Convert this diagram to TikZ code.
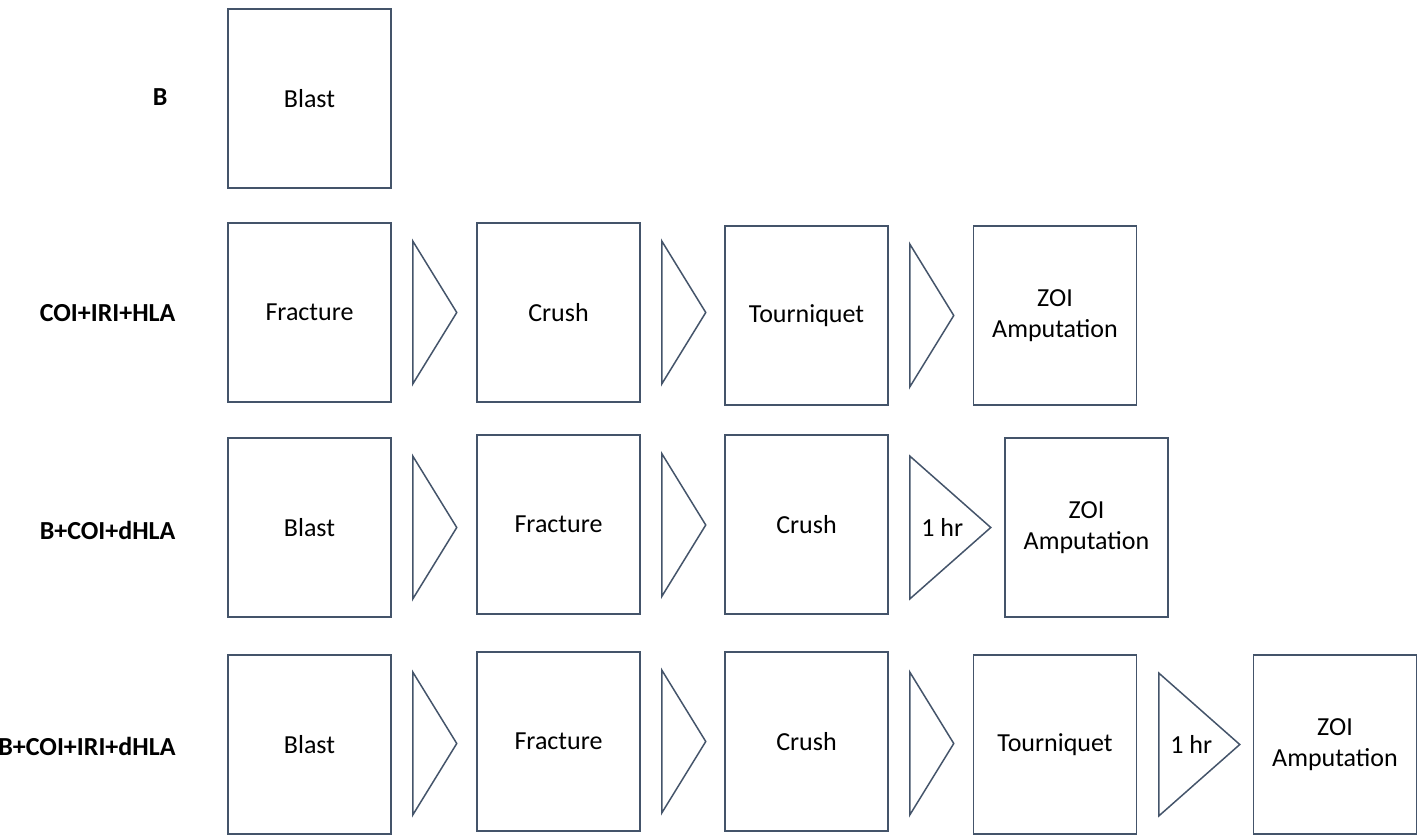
\documentclass[tikz,border=0pt]{standalone}
\usepackage{fontspec}
\setmainfont{Carlito}
\usetikzlibrary{shapes.geometric}
\definecolor{edgegray}{HTML}{44546A}

\begin{document}
\begin{tikzpicture}[
  x=1pt,y=-1pt,
  every node/.style={align=center,font=\fontsize{26}{31}\selectfont},
  stage/.style={draw=edgegray,line width=1.5pt,minimum width=163pt,minimum height=179pt,inner sep=0pt},
  wedge/.style={draw=edgegray,line width=1.5pt,shape=isosceles triangle,isosceles triangle stretches,
    minimum height=44pt,minimum width=143pt,inner sep=0pt,anchor=lower side},
  longwedge/.style={wedge,minimum height=81pt},
  group/.style={font=\fontsize{26}{31}\selectfont\bfseries,anchor=east}]

  \useasboundingbox (0,0) rectangle (1424,836);

  % Row labels
  \node[group] (lblB) at (171,97) {B};
  \node[group] (lblCIH) at (179,313) {COI+IRI+HLA};
  \node[group] (lblBCdH) at (179,530) {B+COI+dHLA};
  \node[group] (lblBCIdH) at (179,746) {B+COI+IRI+dHLA};

  % First row
  \node[stage] (blastA) at (309.5,98.5) {Blast};

  % Second row
  \node[stage] (fractureB) at (309.5,312.5) {Fracture};
  \node[wedge] (wedgeB1) at (412,312.5) {};
  \node[stage] (crushB) at (558.5,312.5) {Crush};
  \node[wedge] (wedgeB2) at (661,312.5) {};
  \node[stage] (tourniquetB) at (806.5,315.5) {Tourniquet};
  \node[wedge] (wedgeB3) at (909,315.5) {};
  \node[stage] (zoiB) at (1055,315.5) {ZOI\\Amputation};

  % Third row
  \node[stage] (blastC) at (309.5,527.5) {Blast};
  \node[wedge] (wedgeC1) at (412,527.5) {};
  \node[stage] (fractureC) at (558.5,524.5) {Fracture};
  \node[wedge] (wedgeC2) at (661,525) {};
  \node[stage] (crushC) at (806.5,524.5) {Crush};
  \node[longwedge] (wedgeC3) at (909,527.5) {1 hr};
  \node[stage] (zoiC) at (1086.5,527.5) {ZOI\\Amputation};

  % Fourth row
  \node[stage] (blastD) at (309.5,744.5) {Blast};
  \node[wedge] (wedgeD1) at (412,743.5) {};
  \node[stage] (fractureD) at (558.5,741.5) {Fracture};
  \node[wedge] (wedgeD2) at (661,741.5) {};
  \node[stage] (crushD) at (806.5,741.5) {Crush};
  \node[wedge] (wedgeD3) at (909,743.5) {};
  \node[stage] (tourniquetD) at (1055,744.5) {Tourniquet};
  \node[longwedge] (wedgeD4) at (1158,744.5) {1 hr};
  \node[stage] (zoiD) at (1335,744.5) {ZOI\\Amputation};
\end{tikzpicture}
\end{document}
